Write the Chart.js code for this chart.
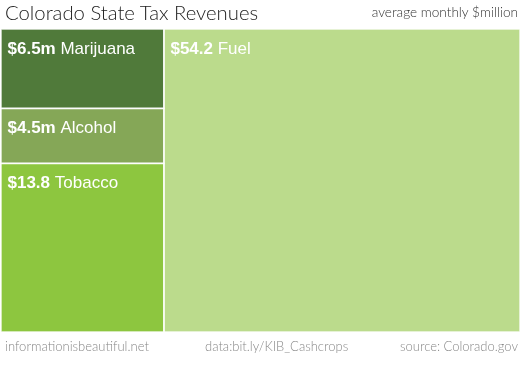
<!DOCTYPE html>
<html>
<head>
<meta charset="utf-8">
<script src="https://cdn.jsdelivr.net/npm/chart.js@4"></script>
<style>
  html, body { margin: 0; padding: 0; background: #fff; }
  #wrap { position: relative; width: 520px; height: 370px; }
  .txt { position: absolute; white-space: nowrap; font-family: 'Lato', sans-serif; font-weight: 300; }
  #title { left: 5px; top: 0px; font-size: 20.3px; color: #222; }
  #unit { right: 2px; top: 4px; font-size: 13.6px; color: #333; }
  .foot { top: 338px; font-size: 13px; color: #888; }
</style>
</head>
<body>
<div id="wrap">
  <canvas id="chart" width="520" height="370"></canvas>
  <div class="txt" id="title">Colorado State Tax Revenues</div>
  <div class="txt" id="unit">average monthly $million</div>
  <div class="txt foot" style="left:5px">informationisbeautiful.net</div>
  <div class="txt foot" style="left:205px">data:bit.ly/KIB_Cashcrops</div>
  <div class="txt foot" style="right:2px">source: Colorado.gov</div>
</div>
<script>
// treemap data, grouped into columns
const categories = ['Marijuana', 'Alcohol', 'Tobacco', 'Fuel'];
const values = [6.5, 4.5, 13.8, 54.2];
const valueLabels = ['$6.5m', '$4.5m', '$13.8', '$54.2'];
const columns = [[0, 1, 2], [3]];
const colors = ['#507a3a', '#85a757', '#8dc63f', '#bbdb8c'];

const total = values.reduce((a, b) => a + b, 0);

// slice-and-dice layout: columns split x, items split y (top to bottom)
const rects = [];
let xStart = 0;
columns.forEach(col => {
    const colSum = col.reduce((s, i) => s + values[i], 0);
    let yTop = 1;
    col.forEach(i => {
        const h = values[i] / colSum;
        rects[i] = { x0: xStart, x1: xStart + colSum, y0: yTop - h, y1: yTop };
        yTop -= h;
    });
    xStart += colSum;
});

const datasets = categories.map((name, i) => ({
    label: name,
    data: [{ x: rects[i].x0, y: rects[i].y1 }, { x: rects[i].x1, y: rects[i].y1 }],
    backgroundColor: colors[i],
    borderWidth: 0,
    pointRadius: 0,
    fill: { value: rects[i].y0 }
}));

const outlines = {
    id: 'outlines',
    afterDatasetsDraw(chart) {
        const { ctx, scales: { x, y } } = chart;
        ctx.save();
        ctx.strokeStyle = 'rgba(255,255,255,0.85)';
        ctx.lineWidth = 1.5;
        rects.forEach((r, i) => {
            const px0 = x.getPixelForValue(r.x0), px1 = x.getPixelForValue(r.x1);
            const py0 = y.getPixelForValue(r.y0), py1 = y.getPixelForValue(r.y1);
            ctx.strokeRect(px0, py1, px1 - px0, py0 - py1);
            ctx.fillStyle = '#fff';
            ctx.textBaseline = 'alphabetic';
            ctx.font = 'bold 17px "Liberation Sans", Arial, sans-serif';
            ctx.fillText(valueLabels[i], px0 + 6.5, py1 + 25);
            const w = ctx.measureText(valueLabels[i] + ' ').width;
            ctx.font = '17px "Liberation Sans", Arial, sans-serif';
            ctx.fillText(categories[i], px0 + 6.5 + w, py1 + 25);
        });
        ctx.restore();
    }
};

new Chart(document.getElementById('chart'), {
    type: 'line',
    data: { datasets },
    options: {
        responsive: false,
        animation: false,
        layout: { padding: { left: 1, right: 0, top: 29, bottom: 38 } },
        scales: {
            x: { type: 'linear', min: 0, max: total, display: false },
            y: { type: 'linear', min: 0, max: 1, display: false }
        },
        plugins: { legend: { display: false }, tooltip: { enabled: false } }
    },
    plugins: [outlines]
});
</script>
</body>
</html>
